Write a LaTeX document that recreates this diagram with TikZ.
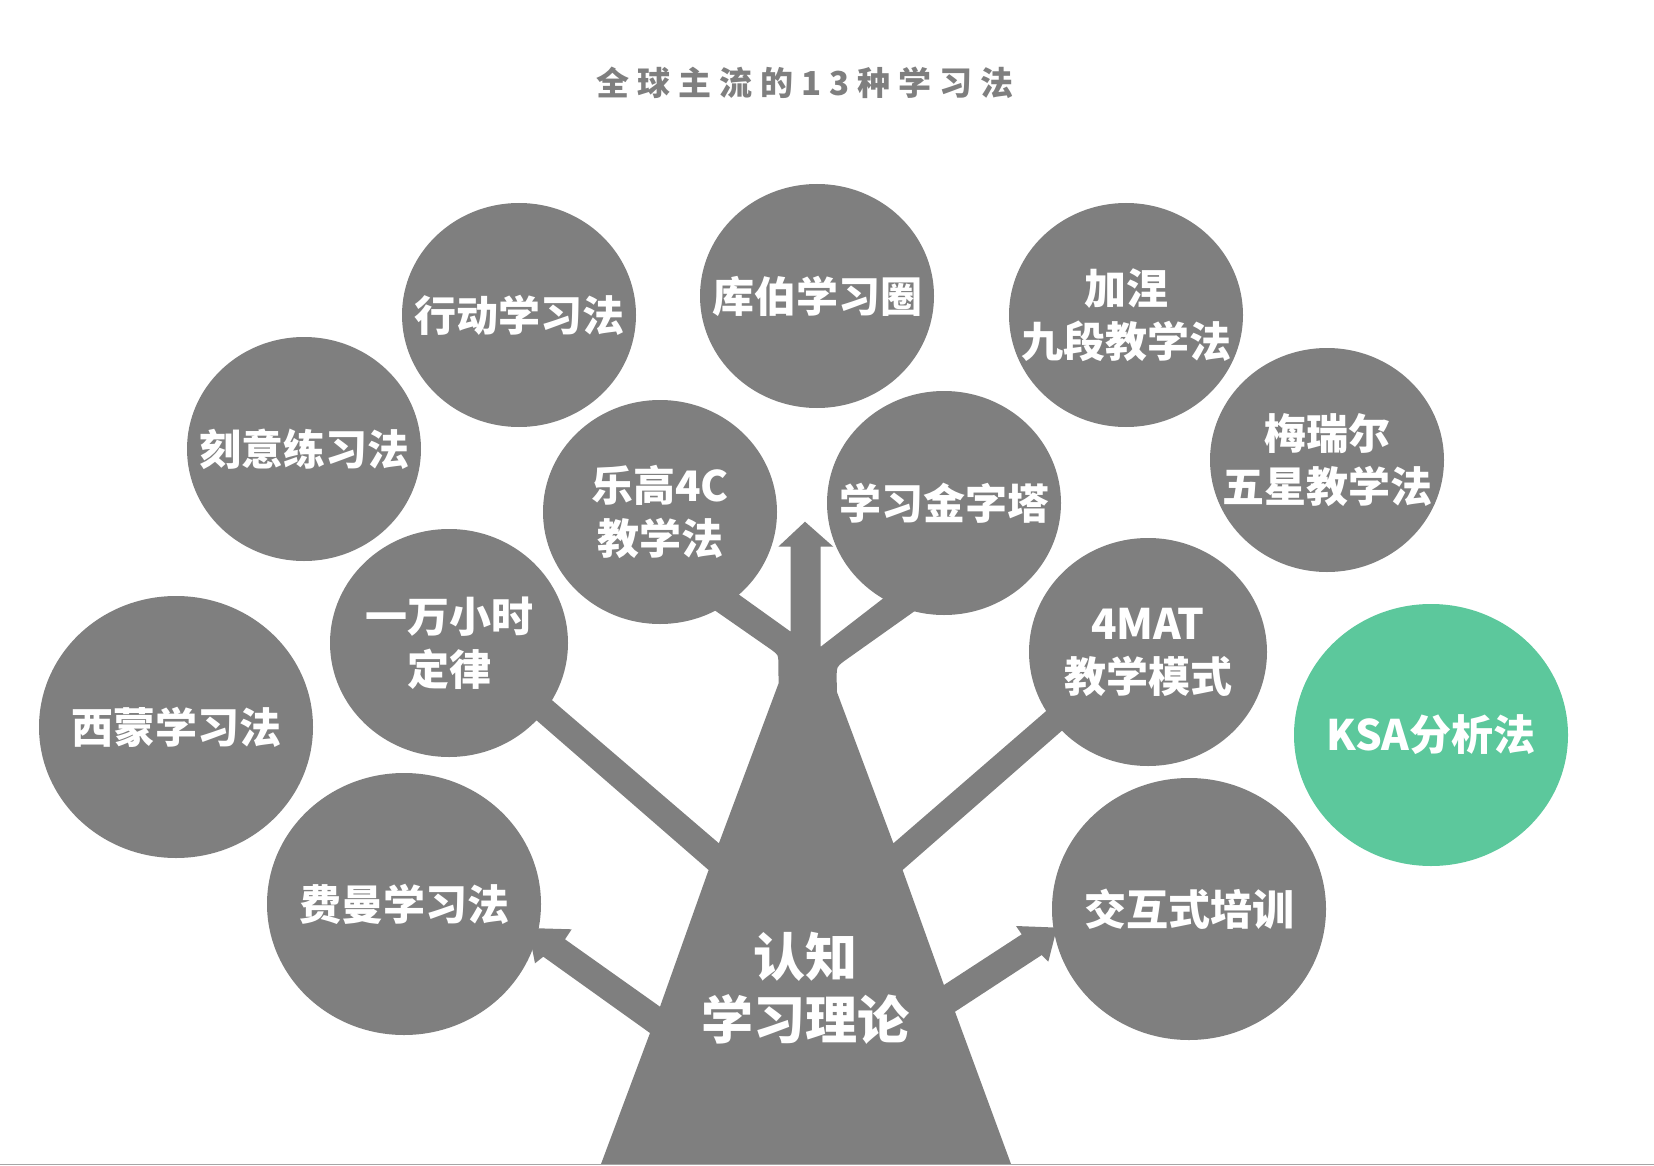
\documentclass[tikz,border=0pt]{standalone}
\usepackage{fontspec}
\newfontfamily\cjk{Noto Sans CJK SC}
\newfontfamily\titlefont[LetterSpace=24]{Noto Sans CJK SC}
\usetikzlibrary{shapes.geometric}
\definecolor{treegray}{RGB}{127,127,127}
\definecolor{ksagreen}{RGB}{92,200,156}

\begin{document}
\begin{tikzpicture}[x=1pt, y=-1pt,
        bub/.style={ellipse, fill=treegray, inner sep=0pt, minimum width=234pt, minimum height=224pt},
        bigbub/.style={bub, minimum width=274pt, minimum height=262pt},
        lbl/.style={text=white, align=center, font=\cjk\bfseries\fontsize{42}{53}\selectfont},
      ]
      \useasboundingbox (0,0) rectangle (1654,1166);
      \node[font=\titlefont\bfseries\fontsize{33}{38}\selectfont, text=treegray] (title) at (805,83) {全球主流的13种学习法};

      \fill[treegray] (601,1164) -- (650,1033) -- (543.3,956.7) -- (535,963.3) -- (528,928) -- (571.7,929.3) -- (565,939.3) -- (660,1006.7)
        -- (708.6,870) -- (523,708.6) -- (538.5,688.6) -- (718.9,843.3) -- (778.6,683.3) -- (778.3,663)
        .. controls (778.3,655) .. (771.7,650) -- (696.2,597.4) -- (719.5,580.7) -- (790.7,631.7)
        -- (790.7,546.7) -- (778.3,546.7) -- (805,521.7) -- (833.3,546.7) -- (820.7,546.7) -- (820.7,646.7)
        -- (903.1,583) -- (933.1,598) -- (843.3,661.7) .. controls (836.7,667) .. (836.7,676.7) -- (836.8,691.7)
        -- (893.4,843.3) -- (1060.5,698.6) -- (1075.7,718.6) -- (902.6,870) -- (943.9,985)
        -- (1021.7,934.3) -- (1016,926) -- (1057,927.6) -- (1048.3,961.7) -- (1041.7,955) -- (955,1011.7)
        -- (1011,1164) -- cycle;
      \draw[gray!70, line width=1.5pt] (0,1164.5) -- (1654,1164.5);

      \node[text=white, align=center, font=\cjk\bfseries\fontsize{52}{63}\selectfont] (root) at (805,988) {认知\\学习理论};

      \node[bigbub, label={[lbl]center:西蒙学习法}] (ximeng) at (176,727) {};
      \node[bigbub, label={[lbl]center:费曼学习法}] (feiman) at (404,904) {};
      \node[bub, minimum width=238pt, minimum height=228pt, label={[lbl]center:{一万小时\\定律}}] (yiwan) at (449,643) {};
      \node[bub, label={[lbl]center:刻意练习法}] (keyi) at (304,449) {};
      \node[bub, label={[lbl]center:行动学习法}] (xingdong) at (519,315) {};
      \node[bub, label={[lbl]center:库伯学习圈}] (kubo) at (817,296) {};
      \node[bub, label={[lbl]center:{乐高4C\\教学法}}] (legao) at (660,512) {};
      \node[bub, label={[lbl]center:学习金字塔}] (jinzita) at (944,503) {};
      \node[bub, label={[lbl]center:{加涅\\九段教学法}}] (jianie) at (1126,315) {};
      \node[bub, label={[lbl]center:{梅瑞尔\\五星教学法}}] (meiruier) at (1327,460) {};
      \node[bub, minimum width=238pt, minimum height=228pt, label={[lbl]center:{4MAT\\教学模式}}] (fourmat) at (1148,652) {};
      \node[bigbub, label={[lbl]center:交互式培训}] (jiaohu) at (1189,909) {};
      \node[bigbub, fill=ksagreen, label={[lbl]center:KSA分析法}] (ksa) at (1431,735) {};
      \end{tikzpicture}
\end{document}
